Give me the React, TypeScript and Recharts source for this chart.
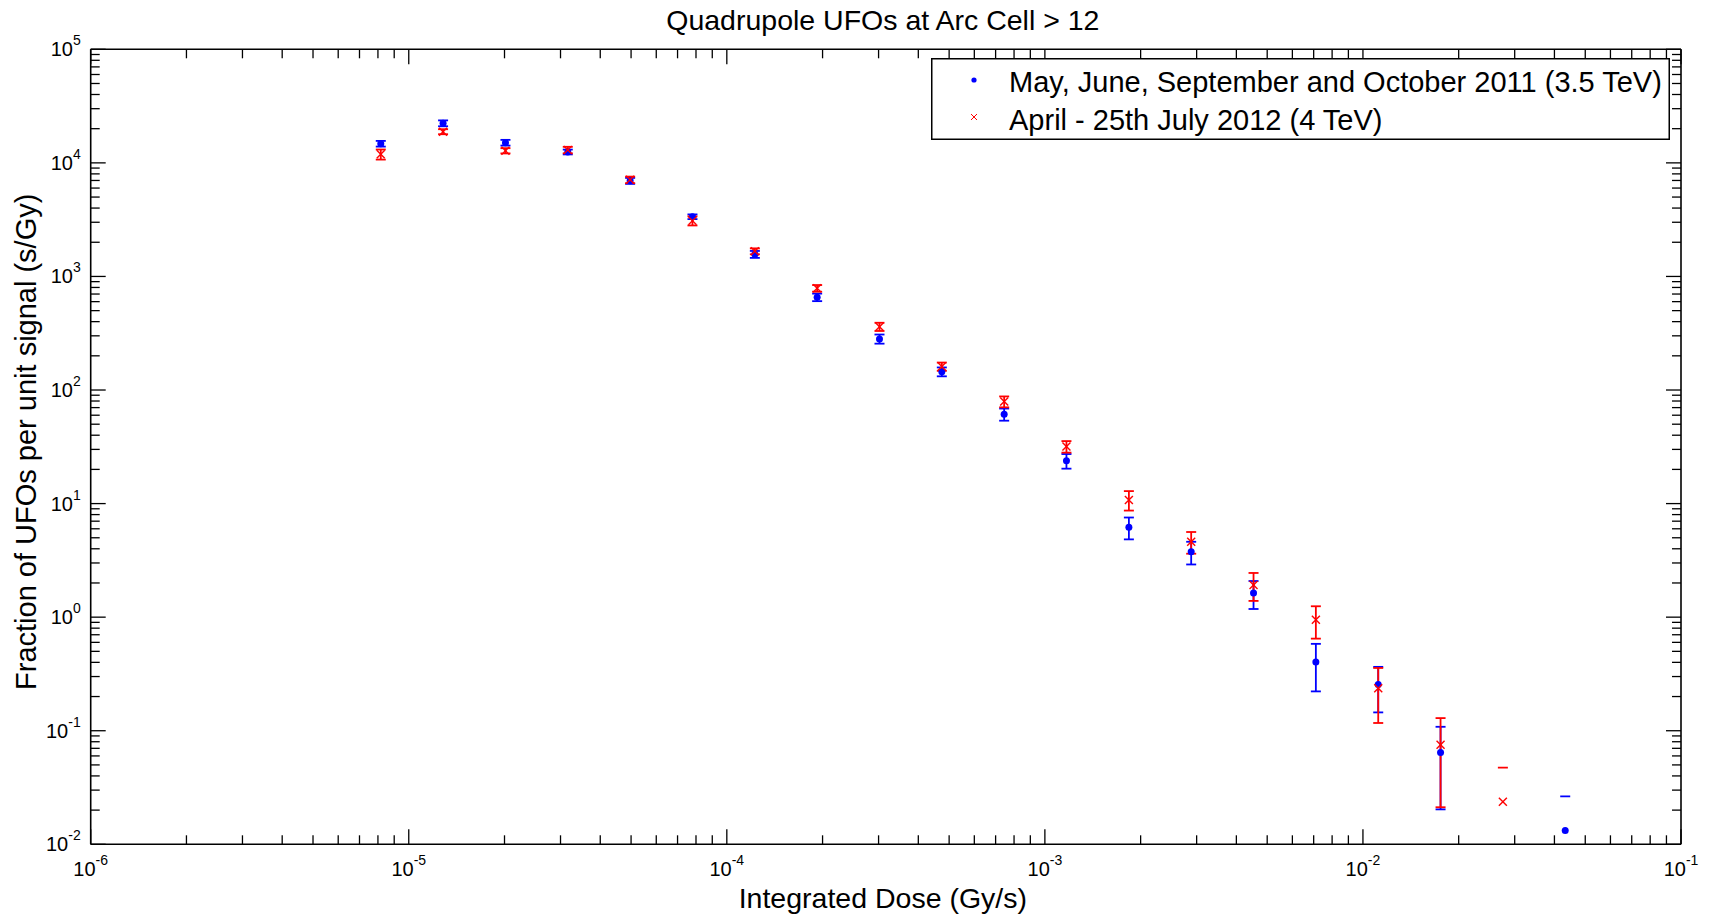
import React from 'react';
import { ScatterChart, Scatter, XAxis, YAxis, ErrorBar, Legend, Label } from 'recharts';

// Bin centres of the integrated dose (Gy/s)
const doseGyPerS = [
  8.166e-6, 1.282e-5, 2.014e-5, 3.162e-5, 4.966e-5, 7.798e-5, 1.225e-4, 1.923e-4, 3.02e-4, 4.742e-4,
  7.447e-4, 1.169e-3, 1.837e-3, 2.884e-3, 4.529e-3, 7.112e-3, 1.117e-2, 1.754e-2, 2.754e-2, 4.325e-2,
];

// 2011 run (3.5 TeV): fraction of UFOs per unit signal and its error
const rate2011 = [
  14760, 22330, 15070, 12480, 6950, 3357, 1567, 656, 282, 145,
  61.2, 23.8, 6.19, 3.76, 1.63, 0.402, 0.255, 0.0643, null, 0.0132,
];
const err2011 = [
  850, 1330, 875, 610, 420, 160, 110, 50, 26, 13,
  7.5, 3.5, 1.35, 0.85, 0.45, 0.18, 0.11, 0.044, null, 0.0132,
];

// 2012 run (4 TeV)
const rate2012 = [
  11900, 18830, 12790, 13000, 7100, 3097, 1667, 787, 361, 161,
  79.1, 31.8, 10.78, 4.62, 1.92, 0.947, 0.237, 0.0752, 0.0237, null,
];
const err2012 = [
  1210, 955, 680, 850, 470, 285, 100, 53, 30, 13.5,
  8.7, 3.7, 2.1, 1.0, 0.53, 0.3, 0.12, 0.054, 0.0237, null,
];

const series2011Name = 'May, June, September and October 2011 (3.5 TeV)';
const series2012Name = 'April - 25th July 2012 (4 TeV)';
const chartTitle = 'Quadrupole UFOs at Arc Cell > 12';
const xAxisTitle = 'Integrated Dose (Gy/s)';
const yAxisTitle = 'Fraction of UFOs per unit signal (s/Gy)';

// Decades shown on each log axis, plus the minor tick multipliers
const xDecadeExponents = [-6, -5, -4, -3, -2, -1];
const yDecadeExponents = [-2, -1, 0, 1, 2, 3, 4, 5];
const minorSteps = [2, 3, 4, 5, 6, 7, 8, 9];

const BLUE = '#0000ff';
const RED = '#ff0000';
const INK = '#000000';
const FONT = '"Liberation Sans", Arial, Helvetica, sans-serif';

const WIDTH = 1710;
const HEIGHT = 917;
// each axis band is 1px thick, so the plot box spans x 90.7..1681, y 49.3..844.3
const AXIS_BAND = 1;
const MARGIN = { top: 48.3, right: 28, bottom: 71.7, left: 89.7 };

function logTicks(exps: number[]): number[] {
  const out: number[] = [];
  exps.forEach((e, i) => {
    out.push(Math.pow(10, e));
    if (i < exps.length - 1) minorSteps.forEach((m) => out.push(m * Math.pow(10, e)));
  });
  return out;
}

const xTicks = logTicks(xDecadeExponents);
const yTicks = logTicks(yDecadeExponents);
const xDomain = [Math.pow(10, xDecadeExponents[0]), Math.pow(10, xDecadeExponents[xDecadeExponents.length - 1])];
const yDomain = [Math.pow(10, yDecadeExponents[0]), Math.pow(10, yDecadeExponents[yDecadeExponents.length - 1])];

type Pt = { x: number; y: number; err?: number | null };

// Points whose error reaches zero only get their upper cap on a log axis
function buildSeries(values: (number | null)[], errs: (number | null)[]) {
  const points: Pt[] = [];
  const upperCaps: Pt[] = [];
  values.forEach((v, i) => {
    if (v == null) return;
    const e = errs[i];
    const reachesZero = e != null && e >= v;
    points.push({ x: doseGyPerS[i], y: v, err: reachesZero ? null : e });
    if (reachesZero && e != null) upperCaps.push({ x: doseGyPerS[i], y: v + e });
  });
  return { points, upperCaps };
}

const s2011 = buildSeries(rate2011, err2011);
const s2012 = buildSeries(rate2012, err2012);

function decadeInfo(v: number) {
  const lg = Math.log10(v);
  const exp = Math.round(lg);
  return { exp, major: Math.abs(lg - exp) < 1e-6 };
}

const MAJOR_LEN = 15;
const MINOR_LEN = 9;

function makeTick(side: 'bottom' | 'top' | 'left' | 'right') {
  return (props: any) => {
    const { x, y, payload } = props;
    const { exp, major } = decadeInfo(payload.value);
    const len = major ? MAJOR_LEN : MINOR_LEN;
    let line;
    if (side === 'bottom') line = <line x1={x} x2={x} y1={y} y2={y - len} />;
    else if (side === 'top') line = <line x1={x} x2={x} y1={y} y2={y + len} />;
    else if (side === 'left') line = <line x1={x} x2={x + len} y1={y} y2={y} />;
    else line = <line x1={x} x2={x - len} y1={y} y2={y} />;
    let label = null;
    if (major && side === 'bottom') {
      label = (
        <text x={x} y={y + 32} textAnchor="middle" fontFamily={FONT} fontSize={20} fill={INK} stroke="none">
          10<tspan dy={-11} fontSize={14}>{exp}</tspan>
        </text>
      );
    } else if (major && side === 'left') {
      label = (
        <text x={x - 10} y={y + 7} textAnchor="end" fontFamily={FONT} fontSize={20} fill={INK} stroke="none">
          10<tspan dy={-11} fontSize={14}>{exp}</tspan>
        </text>
      );
    }
    return (
      <g stroke={INK} strokeWidth={1.3}>
        {line}
        {label}
      </g>
    );
  };
}

const DotShape = (p: any) => <circle cx={p.cx} cy={p.cy} r={3.5} fill={BLUE} />;
const CrossShape = (p: any) => (
  <g stroke={RED} strokeWidth={1.4}>
    <line x1={p.cx - 4} y1={p.cy - 4} x2={p.cx + 4} y2={p.cy + 4} />
    <line x1={p.cx - 4} y1={p.cy + 4} x2={p.cx + 4} y2={p.cy - 4} />
  </g>
);
const capShape = (color: string) => (p: any) => (
  <line x1={p.cx - 5} x2={p.cx + 5} y1={p.cy} y2={p.cy} stroke={color} strokeWidth={1.8} />
);

const LegendBox = () => (
  <svg width={739} height={82} style={{ display: 'block' }}>
    <rect x={0.75} y={0.75} width={737.5} height={80.5} fill="#ffffff" stroke={INK} strokeWidth={1.5} />
    <circle cx={43} cy={22} r={2.6} fill={BLUE} />
    <text x={78} y={33.5} fontFamily={FONT} fontSize={29} fill={INK}>{series2011Name}</text>
    <g stroke={RED} strokeWidth={1}>
      <line x1={40} y1={56} x2={46} y2={62} />
      <line x1={40} y1={62} x2={46} y2={56} />
    </g>
    <text x={78} y={71.5} fontFamily={FONT} fontSize={29} fill={INK}>{series2012Name}</text>
  </svg>
);

export default function App() {
  return (
    <div style={{ position: 'fixed', left: 0, top: 0, width: WIDTH, height: HEIGHT, background: '#ffffff' }}>
      <ScatterChart width={WIDTH} height={HEIGHT} margin={MARGIN}>
        <XAxis
          xAxisId="bottom"
          dataKey="x"
          type="number"
          scale="log"
          domain={xDomain}
          allowDataOverflow
          ticks={xTicks}
          interval={0}
          height={AXIS_BAND}
          tickSize={0}
          tickMargin={0}
          tickLine={false}
          tick={makeTick('bottom')}
          axisLine={{ stroke: INK, strokeWidth: 1.6 }}
        >
          <Label
            content={(p: any) => {
              const vb = p.viewBox;
              return (
                <text x={vb.x + vb.width / 2 - 3} y={vb.y + 63.5} textAnchor="middle" fontFamily={FONT} fontSize={28.5} fill={INK}>
                  {xAxisTitle}
                </text>
              );
            }}
          />
        </XAxis>
        <XAxis
          xAxisId="top"
          orientation="top"
          dataKey="x"
          type="number"
          scale="log"
          domain={xDomain}
          allowDataOverflow
          ticks={xTicks}
          interval={0}
          height={AXIS_BAND}
          tickSize={0}
          tickMargin={0}
          tickLine={false}
          tick={makeTick('top')}
          axisLine={{ stroke: INK, strokeWidth: 1.6 }}
        >
          <Label
            content={(p: any) => {
              const vb = p.viewBox;
              return (
                <text x={vb.x + vb.width / 2 - 3} y={vb.y + vb.height - 19.5} textAnchor="middle" fontFamily={FONT} fontSize={28.5} fill={INK}>
                  {chartTitle}
                </text>
              );
            }}
          />
        </XAxis>
        <YAxis
          yAxisId="left"
          dataKey="y"
          type="number"
          scale="log"
          domain={yDomain}
          allowDataOverflow
          ticks={yTicks}
          interval={0}
          width={AXIS_BAND}
          tickSize={0}
          tickMargin={0}
          tickLine={false}
          tick={makeTick('left')}
          axisLine={{ stroke: INK, strokeWidth: 1.6 }}
        >
          <Label
            content={(p: any) => {
              const vb = p.viewBox;
              const cx = vb.x + vb.width - 54.7;
              const cy = vb.y + vb.height / 2 - 5;
              return (
                <text x={cx} y={cy} transform={`rotate(-90 ${cx} ${cy})`} textAnchor="middle" fontFamily={FONT} fontSize={29} fill={INK}>
                  {yAxisTitle}
                </text>
              );
            }}
          />
        </YAxis>
        <YAxis
          yAxisId="right"
          orientation="right"
          dataKey="y"
          type="number"
          scale="log"
          domain={yDomain}
          allowDataOverflow
          ticks={yTicks}
          interval={0}
          width={AXIS_BAND}
          tickSize={0}
          tickMargin={0}
          tickLine={false}
          tick={makeTick('right')}
          axisLine={{ stroke: INK, strokeWidth: 1.6 }}
        />

        <Scatter
          name={series2011Name}
          data={s2011.points}
          xAxisId="bottom"
          yAxisId="left"
          shape={DotShape}
          isAnimationActive={false}
        >
          <ErrorBar dataKey="err" direction="y" width={5} stroke={BLUE} strokeWidth={1.8} isAnimationActive={false} />
        </Scatter>
        <Scatter
          data={s2011.upperCaps}
          xAxisId="bottom"
          yAxisId="left"
          shape={capShape(BLUE)}
          legendType="none"
          isAnimationActive={false}
        />
        <Scatter
          name={series2012Name}
          data={s2012.points}
          xAxisId="bottom"
          yAxisId="left"
          shape={CrossShape}
          isAnimationActive={false}
        >
          <ErrorBar dataKey="err" direction="y" width={5} stroke={RED} strokeWidth={1.8} isAnimationActive={false} />
        </Scatter>
        <Scatter
          data={s2012.upperCaps}
          xAxisId="bottom"
          yAxisId="left"
          shape={capShape(RED)}
          legendType="none"
          isAnimationActive={false}
        />

        <Legend
          layout="vertical"
          align="center"
          verticalAlign="middle"
          wrapperStyle={{ left: 931, top: 58, width: 739, height: 82 }}
          content={() => <LegendBox />}
        />
      </ScatterChart>
    </div>
  );
}
